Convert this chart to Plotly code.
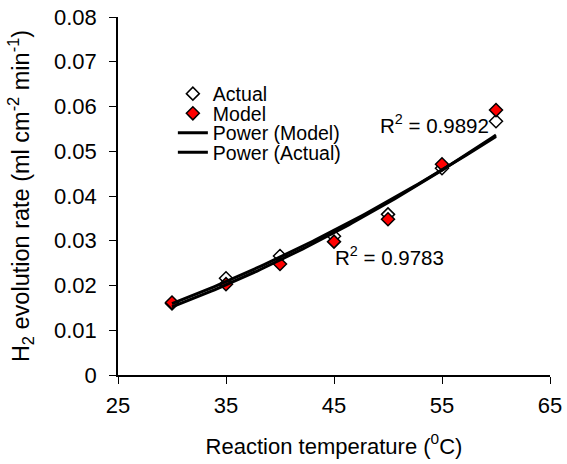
import numpy as np
import plotly.graph_objects as go

temperature = [30, 35, 40, 45, 50, 55, 60]
actual = [0.0160, 0.0216, 0.0266, 0.0310, 0.0359, 0.0462, 0.0567]
model = [0.0162, 0.0203, 0.0248, 0.0298, 0.0348, 0.0471, 0.0592]
r2_model = "0.9892"
r2_actual = "0.9783"
x_ticks = [25, 35, 45, 55, 65]
y_ticks = [0, 0.01, 0.02, 0.03, 0.04, 0.05, 0.06, 0.07, 0.08]

FONT = "Liberation Sans, Arial, sans-serif"
ANN = dict(family=FONT, size=20.5, color="black")


def power_fit(x, y):
    b, ln_a = np.polyfit(np.log(x), np.log(y), 1)
    xs = np.linspace(min(x), max(x), 100)
    return xs, np.exp(ln_a) * xs ** b


fig = go.Figure()
fig.add_trace(go.Scatter(
    x=temperature, y=actual, mode="markers", name="Actual", legend="legend",
    marker=dict(symbol="diamond", size=10, color="white",
                line=dict(color="black", width=1.5))))
fig.add_trace(go.Scatter(
    x=temperature, y=model, mode="markers", name="Model", legend="legend2",
    marker=dict(symbol="diamond", size=10, color="#ff0000",
                line=dict(color="black", width=1.5))))
xm, ym = power_fit(temperature, model)
fig.add_trace(go.Scatter(x=xm, y=ym, mode="lines", name="Power (Model)", legend="legend3",
                         line=dict(color="black", width=3)))
xa, ya = power_fit(temperature, actual)
fig.add_trace(go.Scatter(x=xa, y=ya, mode="lines", name="Power (Actual)", legend="legend4",
                         line=dict(color="black", width=3)))

fig.add_annotation(x=54.35, y=0.0562, text="R<sup>2</sup> = " + r2_model,
                   showarrow=False, font=ANN)
fig.add_annotation(x=50.15, y=0.0266, text="R<sup>2</sup> = " + r2_actual,
                   showarrow=False, font=ANN)


def leg(yc):
    return dict(x=0.127, y=yc, xanchor="left", yanchor="middle",
                bgcolor="rgba(0,0,0,0)", borderwidth=0,
                font=dict(family=FONT, size=19.5, color="black"))


fig.update_layout(
    width=567, height=464,
    margin=dict(l=118, r=17, t=17, b=89, autoexpand=False),
    paper_bgcolor="white", plot_bgcolor="white",
    font=dict(family=FONT, size=20, color="black"),
    showlegend=True,
    legend=leg(0.785), legend2=leg(0.730), legend3=leg(0.676), legend4=leg(0.621),
    xaxis=dict(range=[25, 65], tickvals=x_ticks, ticktext=[str(v) for v in x_ticks],
               tickfont=dict(family=FONT, size=22, color="black"),
               showline=True, linecolor="black", linewidth=1.5,
               ticks="outside", ticklen=7, tickcolor="black", tickwidth=1,
               ticklabelstandoff=3, automargin=False,
               showgrid=False, zeroline=False,
               title=dict(text="Reaction temperature (<sup>0</sup>C)", standoff=21,
                          font=dict(family=FONT, size=22, color="black"))),
    yaxis=dict(range=[0, 0.08], tickvals=y_ticks,
               ticktext=["0"] + ["%.2f" % v for v in y_ticks[1:]],
               tickfont=dict(family=FONT, size=22, color="black"),
               showline=True, linecolor="black", linewidth=1.5,
               ticks="outside", ticklen=7, tickcolor="black", tickwidth=1,
               ticklabelstandoff=8, automargin=False,
               showgrid=False, zeroline=False,
               title=dict(text="H<sub>2</sub> evolution rate (ml cm<sup>-2</sup> min<sup>-1</sup>)",
                          standoff=18,
                          font=dict(family=FONT, size=23.5, color="black"))),
)

fig.write_html("out.html")
